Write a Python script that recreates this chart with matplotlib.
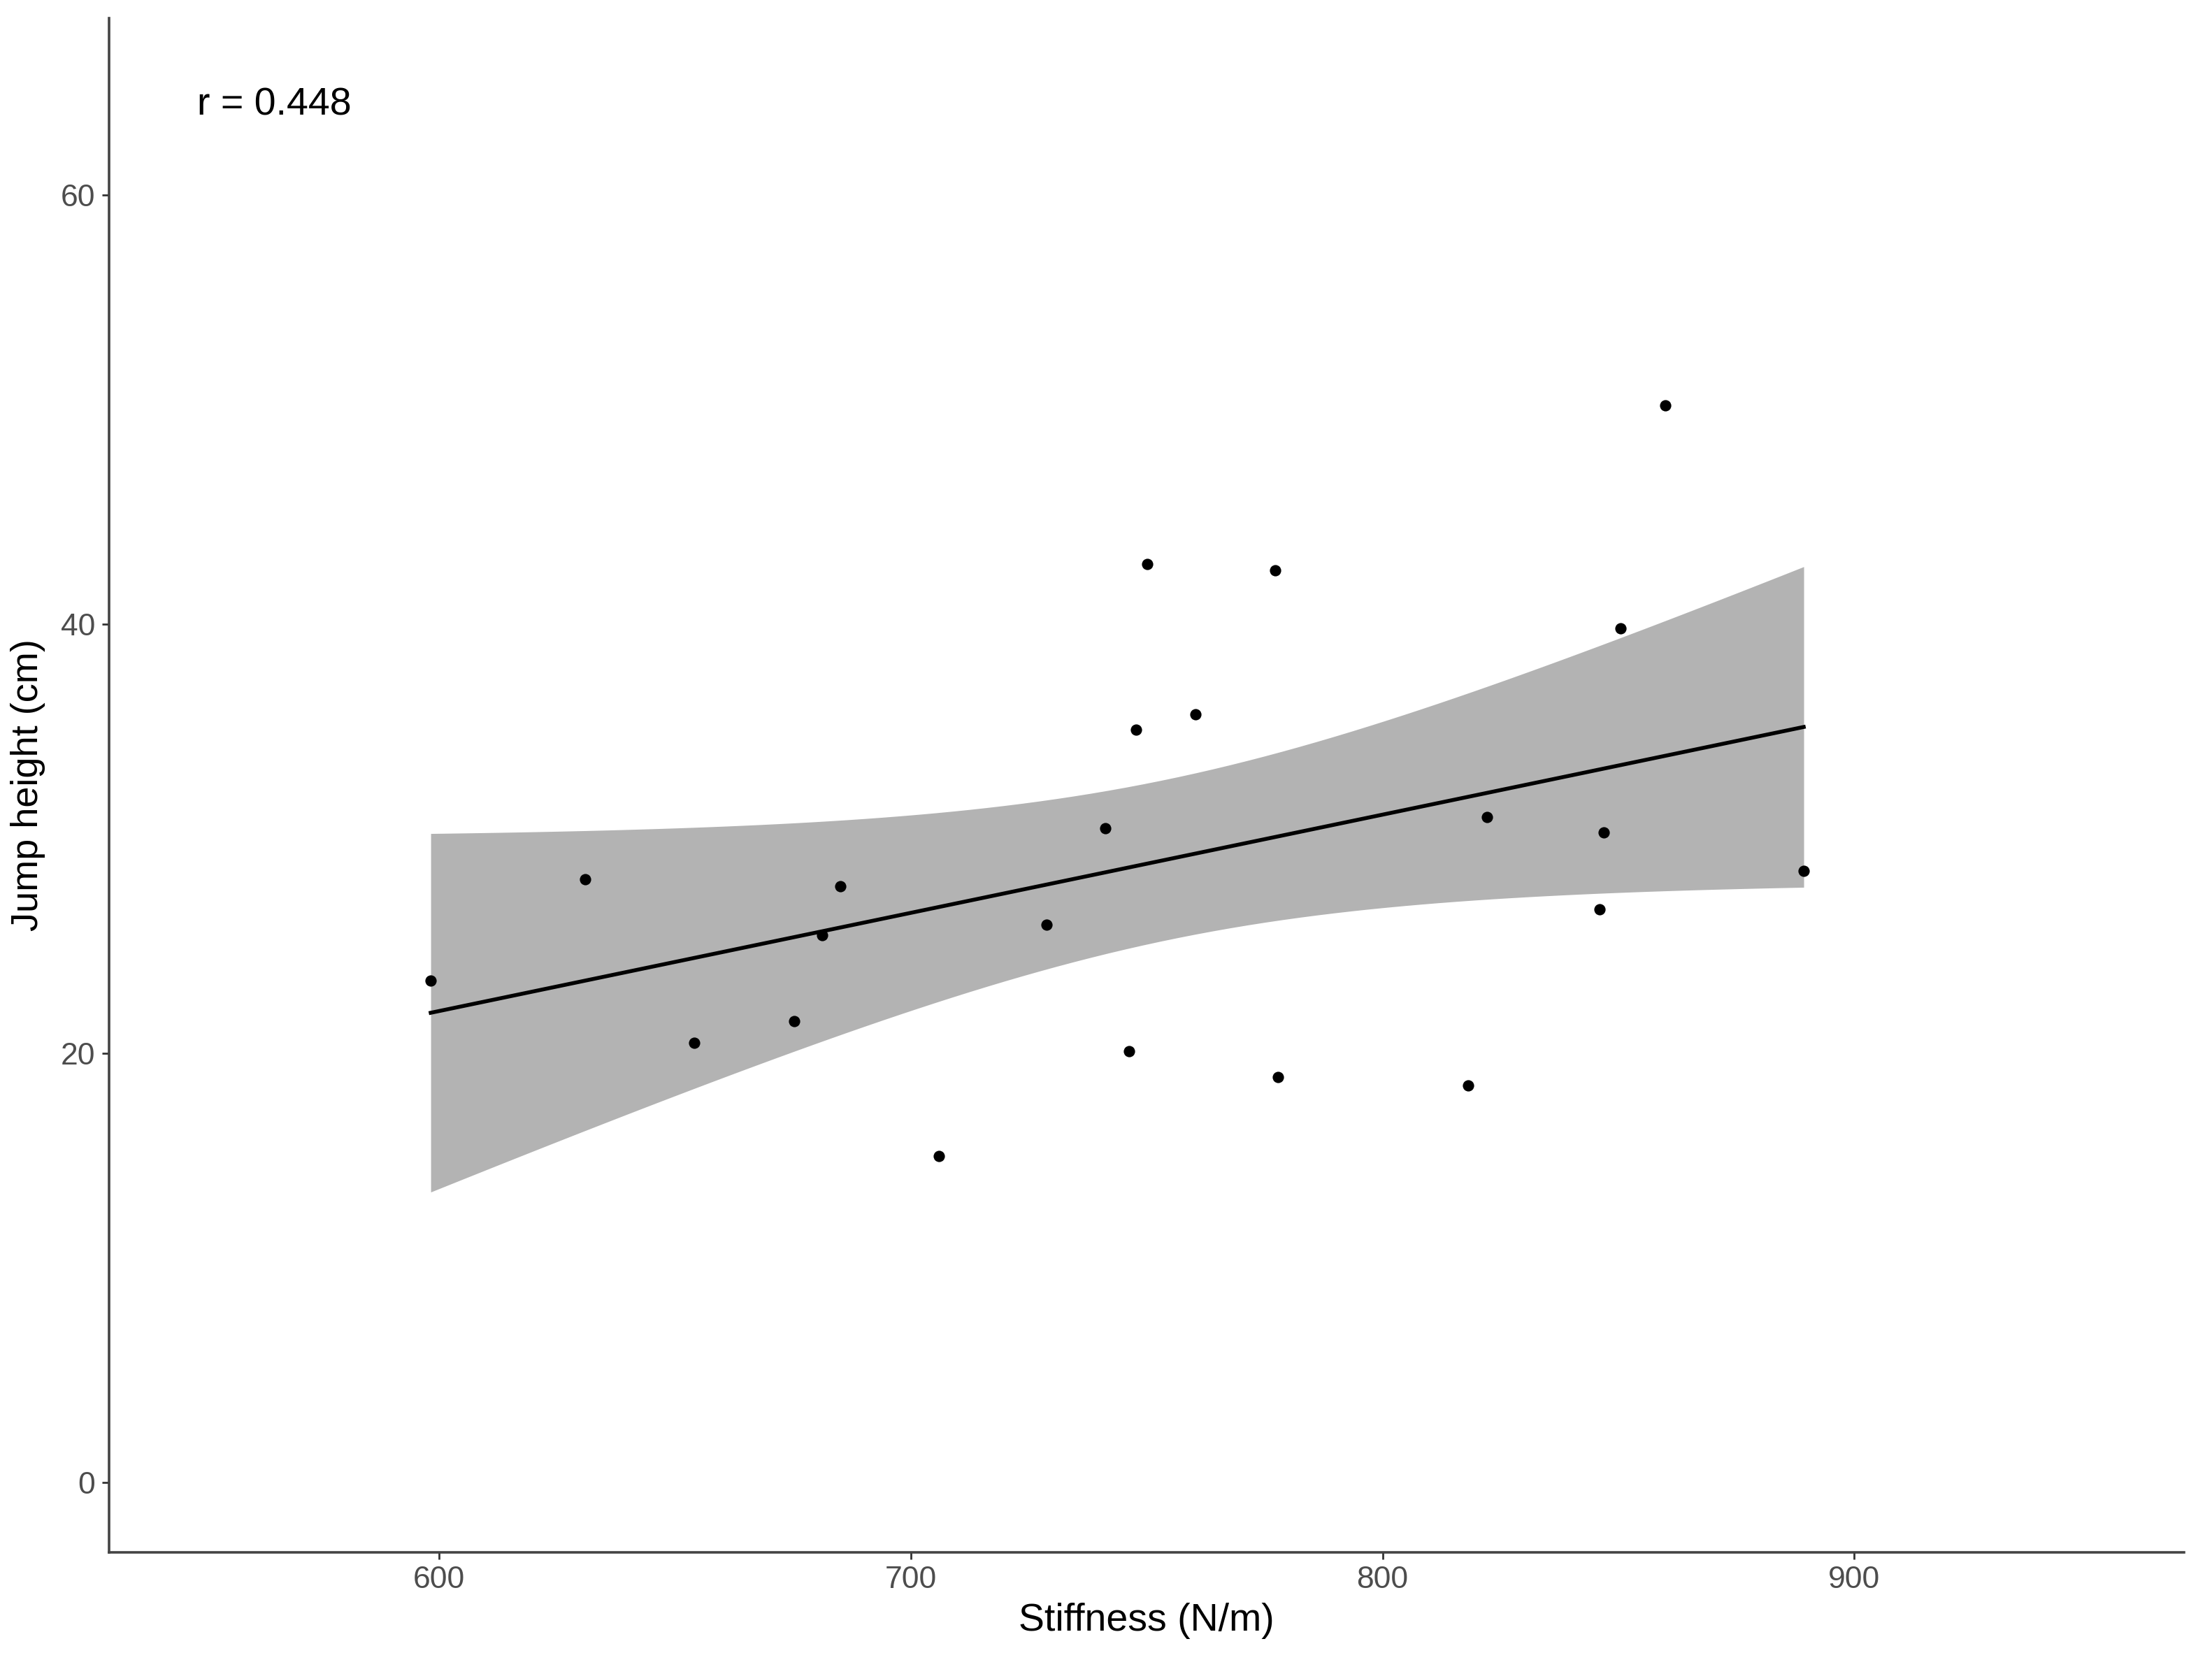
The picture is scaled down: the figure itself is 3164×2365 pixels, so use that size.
import numpy as np
import matplotlib
matplotlib.use('Agg')
from matplotlib import pyplot as plt

plt.rcParams['font.family'] = ['Liberation Sans', 'DejaVu Sans']

# stiffness (N/m) and jump height (cm)
stiffness = [598.2, 631.0, 654.0, 675.2, 681.2, 685.1, 706.0, 728.7, 741.2, 746.3, 747.8,
             750.1, 760.3, 777.3, 777.9, 818.2, 822.1, 846.0, 846.9, 850.4, 860.0, 889.3]
jump = [23.4, 28.1, 20.5, 21.5, 25.5, 27.8, 15.2, 26.0, 30.5, 20.1, 35.1,
        42.8, 35.8, 42.5, 18.9, 18.5, 31.0, 26.7, 30.3, 39.8, 50.2, 28.5]
r_label = 'r = 0.448'
x_ticks = [600, 700, 800, 900]
y_ticks = [0, 20, 40, 60]

x = np.array(stiffness)
y = np.array(jump)
n = len(x)

# linear fit with 95% confidence band (like geom_smooth(method = "lm"))
b, a = np.polyfit(x, y, 1)
xs = np.linspace(x.min(), x.max(), 80)
fit = a + b * xs
resid = y - (a + b * x)
s = np.sqrt(np.sum(resid ** 2) / (n - 2))
se = s * np.sqrt(1 / n + (xs - x.mean()) ** 2 / np.sum((x - x.mean()) ** 2))
t = 2.086  # t(0.975, df = 20)

fig = plt.figure(figsize=(15.82, 11.825), dpi=200)
ax = fig.add_axes([0.0493, 0.061, 0.9382, 0.928])

ax.fill_between(xs, fit - t * se, fit + t * se, color='#b3b3b3', lw=0, zorder=1)
ax.plot(xs, fit, color='black', lw=2.0, zorder=2)
ax.scatter(x, y, s=34, color='black', lw=0, zorder=3)

ax.text(565, 64.2, r_label, fontsize=20, ha='center', va='center', color='black')

ax.set_xlim(530, 970)
ax.set_ylim(-3.25, 68.25)
ax.set_xticks(x_ticks)
ax.set_yticks(y_ticks)
ax.tick_params(labelsize=16, labelcolor='#4d4d4d', color='#333333', length=3.6, width=1.0)

for side in ['top', 'right']:
    ax.spines[side].set_visible(False)
for side in ['left', 'bottom']:
    ax.spines[side].set_linewidth(1.3)
    ax.spines[side].set_color('#444444')

ax.set_xlabel('Stiffness (N/m)', fontsize=20, color='black', labelpad=4)
ax.set_ylabel('Jump height (cm)', fontsize=19.5, color='black', labelpad=8)

fig.savefig('out.png', dpi=200)
